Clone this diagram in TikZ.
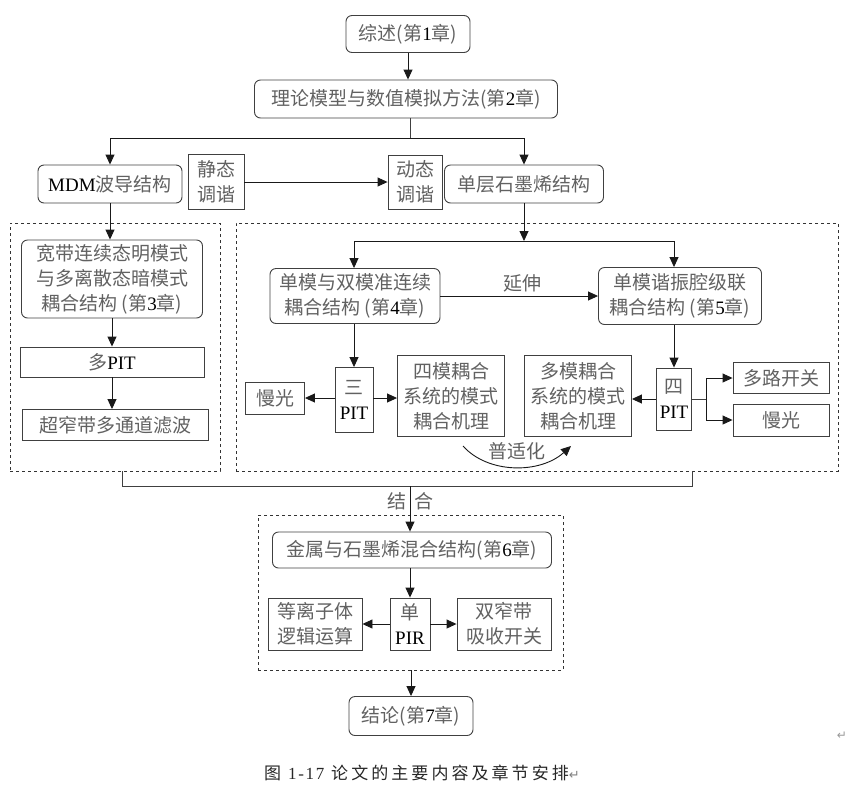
\documentclass[tikz,border=0pt]{standalone}
\usepackage{fontspec}
\setmainfont{Noto Sans CJK SC}
\newfontfamily\latfont{Liberation Serif}
\newfontfamily\capfont[LetterSpace=18]{Noto Sans CJK SC}
\newfontfamily\caplat[LetterSpace=10]{Liberation Serif}
\newfontfamily\symfont{DejaVu Sans}
\usetikzlibrary{arrows.meta}
\newcommand\LT[1]{{\latfont\color{black}#1}}
\begin{document}
\begin{tikzpicture}[x=1pt,y=-1pt,
  every node/.style={font=\fontsize{19}{25}\selectfont, text=black!62, inner sep=0pt, align=center},
  bx/.style={draw=black!75, line width=0.9pt, minimum width=#1},
  rbx/.style={bx=#1, rounded corners=6pt},
  region/.style={draw=black!80, dashed, line width=0.9pt},
  arr/.style={-{Triangle[length=10pt,width=9pt]}, line width=0.9pt, draw=black!90},
  ln/.style={line width=0.9pt, draw=black!75}]
\useasboundingbox (0,0) rectangle (848,788);

% regions
\node[region, minimum width=210pt, minimum height=248pt] (lbox) at (115,347) {};
\node[region, minimum width=602pt, minimum height=248pt] (rbox) at (537,347) {};
\node[region, minimum width=305pt, minimum height=155pt] (bbox) at (410.5,592.5) {};

% top
\node[rbx=124pt, minimum height=37pt] (n1) at (408,34) {综述(第\LT{1}章)};
\node[rbx=303pt, minimum height=38pt] (n2) at (406,99) {理论模型与数值模拟方法(第\LT{2}章)};
\node[rbx=144pt, minimum height=38pt] (mdm) at (110,184) {\LT{MDM}波导结构};
\node[bx=56pt, minimum height=55pt] (jing) at (216,182) {静态\\调谐};
\node[bx=54pt, minimum height=54pt] (dong) at (415,182) {动态\\调谐};
\node[rbx=159pt, minimum height=38pt] (dan) at (524,184) {单层石墨烯结构};

% left region
\node[rbx=181pt, minimum height=78pt] (kuan) at (112,279) {宽带连续态明模式\\与多离散态暗模式\\耦合结构 (第\LT{3}章)};
\node[bx=184pt, minimum height=30pt] (dpit) at (112,362) {多\LT{PIT}};
\node[bx=186pt, minimum height=31pt] (chao) at (115,425) {超窄带多通道滤波};

% right region
\node[rbx=170pt, minimum height=55pt] (m4) at (355,296) {单模与双模准连续\\耦合结构 (第\LT{4}章)};
\node[rbx=163pt, minimum height=57pt] (m5) at (680,296) {单模谐振腔级联\\耦合结构 (第\LT{5}章)};
\node[bx=38pt, minimum height=65pt] (san) at (354,400) {三\\\LT{PIT}};
\node[bx=59pt, minimum height=32pt] (man1) at (275,398) {慢光};
\node[bx=107pt, minimum height=81pt] (si4) at (451,396) {四模耦合\\系统的模式\\耦合机理};
\node[bx=107pt, minimum height=81pt] (duo) at (578,396) {多模耦合\\系统的模式\\耦合机理};
\node[bx=35pt, minimum height=62pt] (spit) at (674,399) {四\\\LT{PIT}};
\node[bx=96pt, minimum height=31pt] (dlk) at (781,378) {多路开关};
\node[bx=96pt, minimum height=32pt] (man2) at (781,420) {慢光};
\node (yan) at (522,283) {延伸};
\node (psh) at (517,451) {普适化};

% bottom region
\node[rbx=279pt, minimum height=36pt] (jin) at (412,550) {金属与石墨烯混合结构(第\LT{6}章)};
\node[bx=40pt, minimum height=52pt] (pir) at (410,624) {单\\\LT{PIR}};
\node[bx=94pt, minimum height=52pt] (ion) at (315,624) {等离子体\\逻辑运算};
\node[bx=94pt, minimum height=52pt] (dual) at (504,624) {双窄带\\吸收开关};
\node[rbx=124pt, minimum height=39pt] (conc) at (411,716) {结论(第\LT{7}章)};
\node (jie) at (397,501) {结};
\node (he) at (424,501) {合};

\node[font=\capfont\fontsize{17}{20}\selectfont, text=black!85] (cap) at (422,773) {图 {\caplat 1-17} 论文的主要内容及章节安排{\symfont\fontsize{13}{16}\selectfont\color{black!50}↵}};
\node[font=\symfont\fontsize{12}{14}\selectfont, text=black!40] (ret) at (842,736) {↵};

% junctions
\coordinate (j1) at (410,138);
\coordinate (j2) at (524,241);
\coordinate (j3) at (706,399);
\coordinate (jl) at (122,486);
\coordinate (jr) at (692,486);
\coordinate (jm) at (410,486);
\coordinate (c1) at (463,446);
\coordinate (c2) at (571,446);

% connectors
\draw[arr] (n1.south) -- (n1.south |- n2.north);
\draw[ln] (n2.south -| j1) -- (j1);
\draw[arr] (j1) -| (mdm.north);
\draw[arr] (j1) -| (dan.north);
\draw[arr] (jing.east) -- (dong.west);
\draw[arr] (mdm.south) -- (mdm.south |- kuan.north);
\draw[arr] (kuan.south) -- (dpit.north);
\draw[arr] (dpit.south) -- (dpit.south |- chao.north);
\draw[arr] (dan.south) -- (j2);
\draw[arr] (j2) -| (m4.north -| san.north);
\draw[arr] (j2) -| (m5.north -| spit.north);
\draw[arr] (m4.east) -- (m5.west);
\draw[arr] (m4.south -| san.north) -- (san.north);
\draw[arr] (san.west |- man1.east) -- (man1.east);
\draw[arr] (san.east |- man1.east) -- (si4.west |- man1.east);
\draw[arr] (m5.south -| spit.north) -- (spit.north);
\draw[arr] (spit.west) -- (duo.east |- spit.west);
\draw[ln] (spit.east) -- (j3);
\draw[arr] (j3) |- (dlk.west);
\draw[arr] (j3) |- (man2.west);
\draw[arr] (c1) .. controls (488,474) and (540,474) .. (c2);
\draw[ln] (lbox.south -| jl) -- (jl) -- (jr) -- (rbox.south -| jr);
\draw[arr] (jm) -- (jm |- jin.north);
\draw[arr] (jin.south -| pir.north) -- (pir.north);
\draw[arr] (pir.west) -- (ion.east);
\draw[arr] (pir.east) -- (dual.west);
\draw[arr] (bbox.south -| conc.north) -- (conc.north);
\end{tikzpicture}
\end{document}
